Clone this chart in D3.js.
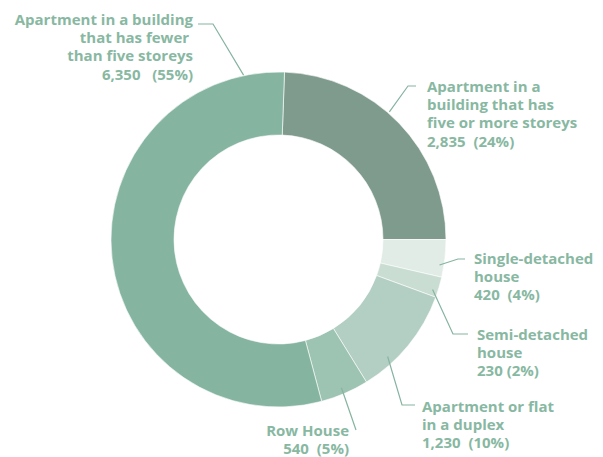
<!DOCTYPE html>
<html>
<head>
<meta charset="utf-8">
<script src="https://cdn.jsdelivr.net/npm/d3@7"></script>
<style>
  body { margin: 0; background: #fff; }
  text { font-family: "Open Sans", sans-serif; font-weight: 700; font-size: 15px; fill: #88b8a2; white-space: pre; }
</style>
</head>
<body>
<script>
const categories = [
  'Apartment in a building that has five or more storeys',
  'Single-detached house',
  'Semi-detached house',
  'Apartment or flat in a duplex',
  'Row House',
  'Apartment in a building that has fewer than five storeys'
];
const values = [2835, 420, 230, 1230, 540, 6350];
const percents = ['24%', '4%', '2%', '10%', '5%', '55%'];
const colors = ['#7f9b8d', '#e1ece6', '#c9ddd3', '#b3cfc3', '#9dc3b2', '#85b5a1'];
const labelLines = [
  ['Apartment in a', 'building that has', 'five or more storeys', '2,835  (24%)'],
  ['Single-detached', 'house', '420  (4%)'],
  ['Semi-detached', 'house', '230 (2%)'],
  ['Apartment or flat', 'in a duplex', '1,230  (10%)'],
  ['Row House', '540  (5%)'],
  ['Apartment in a building', 'that has fewer ', 'than five storeys', '6,350   (55%)']
];

const width = 603, height = 457;
const cx = 278.5, cy = 239.5;
const outerR = 167.5, innerR = 104.5;

// label layout: anchor angle (deg) on ring, elbow, end, text position
const layout = [
  { a: 41, r: 169, elbow: [408, 86], end: [416, 86], tx: 427, ty: 92, anchor: 'start' },
  { a: 99, r: 163, elbow: [458, 259], end: [465, 259], tx: 474, ty: 264, anchor: 'start' },
  { a: 108, r: 162, elbow: [453, 334], end: [468, 334], tx: 477, ty: 340, anchor: 'start' },
  { a: 137, r: 160, elbow: [402, 405], end: [415, 405], tx: 422, ty: 412, anchor: 'start' },
  { a: 157, r: 161, elbow: [356, 430], end: [356, 430], tx: 349, ty: 436, anchor: 'end' },
  { a: -12, r: 168, elbow: [213, 24], end: [198, 24], tx: 193, ty: 25, anchor: 'end' }
];

const svg = d3.select('body')
  .append('svg')
  .attr('width', width)
  .attr('height', height);

const total = d3.sum(values);
const start = Math.PI / 2 - 2 * Math.PI * values[0] / total;

const pie = d3.pie()
  .value(d => d)
  .sort(null)
  .startAngle(start)
  .endAngle(start + 2 * Math.PI);

const arc = d3.arc().innerRadius(innerR).outerRadius(outerR);

const g = svg.append('g').attr('transform', `translate(${cx},${cy})`);

g.selectAll('path')
  .data(pie(values))
  .enter()
  .append('path')
  .attr('d', arc)
  .attr('fill', (d, i) => colors[i])
  .attr('stroke', '#fff')
  .attr('stroke-width', 0.6);

// leader lines + labels
layout.forEach((l, i) => {
  const ang = l.a * Math.PI / 180;
  const sx = cx + l.r * Math.sin(ang);
  const sy = cy - l.r * Math.cos(ang);
  svg.append('polyline')
    .attr('points', [[sx, sy], l.elbow, l.end].map(p => p.join(',')).join(' '))
    .attr('fill', 'none')
    .attr('stroke', '#86b4a0')
    .attr('stroke-width', 1.2);

  const t = svg.append('text')
    .attr('text-anchor', l.anchor);
  labelLines[i].forEach((line, j) => {
    t.append('tspan')
      .attr('x', l.tx)
      .attr('y', l.ty + j * 18.2)
      .text(line);
  });
});
</script>
</body>
</html>
